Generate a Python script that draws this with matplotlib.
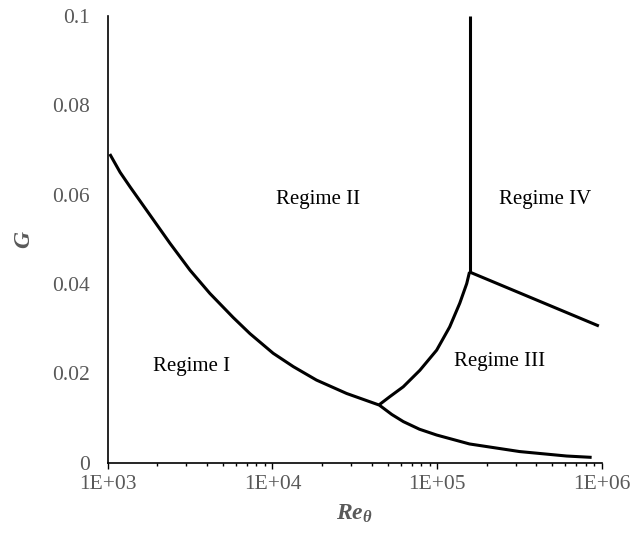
import matplotlib
matplotlib.use("Agg")
import matplotlib.pyplot as plt
from matplotlib.ticker import FixedLocator, LogLocator, NullFormatter

plt.rcParams['font.family'] = ['Liberation Serif', 'DejaVu Serif']
plt.rcParams['mathtext.fontset'] = 'custom'
plt.rcParams['mathtext.rm'] = 'Liberation Serif'
plt.rcParams['mathtext.it'] = 'Liberation Serif:italic'
plt.rcParams['mathtext.bf'] = 'Liberation Serif:bold:italic'

# regime boundaries (Re_theta, G)
re_12 = [1.03e3, 1.19e3, 1.37e3, 1.81e3, 2.39e3, 3.16e3, 4.17e3, 5.78e3, 7.3e3,
         1.01e4, 1.34e4, 1.85e4, 2.82e4, 4.45e4, 5.3e4, 6.23e4, 7.8e4, 9.92e4,
         1.57e5, 3.16e5, 6.1e5, 8.65e5]
g_12 = [0.0691, 0.0650, 0.0617, 0.0554, 0.0491, 0.0431, 0.0379, 0.0325, 0.0289,
        0.0245, 0.0215, 0.0185, 0.0155, 0.0129, 0.0108, 0.0092, 0.0075, 0.0062,
        0.0042, 0.0025, 0.0015, 0.0012]

re_23 = [4.45e4, 4.49e4, 5.16e4, 6.22e4, 7.85e4, 9.92e4, 1.19e5, 1.37e5, 1.51e5, 1.57e5]
g_23 = [0.0129, 0.0131, 0.0148, 0.0170, 0.0207, 0.0252, 0.0304, 0.0357, 0.0401, 0.0427]

re_24 = [1.57e5, 1.57e5]
g_24 = [0.0427, 0.1]

re_34 = [1.57e5, 9.57e5]
g_34 = [0.0427, 0.0306]

labels = ['Regime I', 'Regime II', 'Regime III', 'Regime IV']
label_re = [3.23e3, 1.9e4, 2.4e5, 4.5e5]
label_g = [0.0215, 0.0589, 0.0226, 0.059]

yticks = [0, 0.02, 0.04, 0.06, 0.08, 0.1]
ytick_labels = ['0', '0.02', '0.04', '0.06', '0.08', '0.1']
xticks = [1e3, 1e4, 1e5, 1e6]
xtick_labels = ['1E+03', '1E+04', '1E+05', '1E+06']

gray = '#595959'

fig = plt.figure(figsize=(6.44, 5.4), dpi=100)
ax = fig.add_axes([0.1672, 0.1431, 0.9348 - 0.1672, 0.9704 - 0.1431])

for xs, ys in [(re_12, g_12), (re_23, g_23), (re_24, g_24), (re_34, g_34)]:
    ax.plot(xs, ys, color='black', lw=2.2, solid_capstyle='butt', solid_joinstyle='round')

for t, x, y in zip(labels, label_re, label_g):
    ax.text(x, y, t, ha='center', va='center', fontsize=15, color='black')

ax.set_xscale('log')
ax.set_xlim(1e3, 1e6)
ax.set_ylim(0, 0.1)

ax.xaxis.set_major_locator(FixedLocator(xticks))
ax.set_xticklabels(xtick_labels)
ax.xaxis.set_minor_locator(LogLocator(base=10, subs=range(2, 10)))
ax.xaxis.set_minor_formatter(NullFormatter())
ax.set_yticks(yticks)
ax.set_yticklabels(ytick_labels)

ax.tick_params(axis='x', which='major', direction='out', length=4, width=1, colors='black',
               labelcolor=gray, labelsize=15.5, pad=5)
ax.tick_params(axis='x', which='minor', direction='out', length=2.5, width=1, colors='black')
ax.tick_params(axis='y', length=0, labelcolor=gray, labelsize=15.5, pad=13)

for s in ['top', 'right']:
    ax.spines[s].set_visible(False)
for s in ['left', 'bottom']:
    ax.spines[s].set_linewidth(1.2)
    ax.spines[s].set_color('black')

ax.set_xlabel(r'$\mathbf{Re_{\theta}}$', fontsize=17, color=gray, labelpad=6)
ax.set_ylabel(r'$\mathbf{G}$', fontsize=17, color=gray, labelpad=12)

fig.savefig('out.png', dpi=100)
